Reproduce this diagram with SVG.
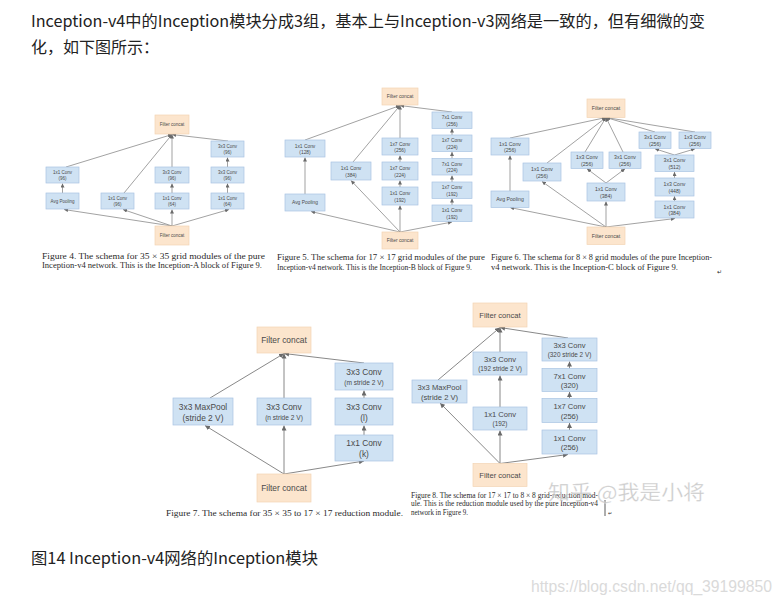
<svg xmlns="http://www.w3.org/2000/svg" width="783" height="606" viewBox="0 0 783 606">
<defs>
<style>
.b{fill:#cfe2f3;stroke:#a8c3e3;stroke-width:0.7}
.c{fill:#fce5cd;stroke:#f2d4b4;stroke-width:0.7}
.t{font-family:"Liberation Sans",Arial,sans-serif;fill:#4a4a4a;text-anchor:middle}
.s4{font-size:4.5px}.s5{font-size:4.9px}.s6{font-size:5.2px}
.s7{font-size:8.4px}.s7s{font-size:6.6px}.s8{font-size:7.6px}.s8s{font-size:6.4px}
.cap{font-family:"Liberation Serif","Times New Roman",serif;fill:#2a2a2a}
.ln{stroke:#7a7a7a;stroke-width:0.7;fill:none;marker-end:url(#as)}
.lnL{stroke:#7a7a7a;stroke-width:0.9;fill:none;marker-end:url(#al)}
.zh{font-family:"Noto Sans CJK SC","Liberation Sans",sans-serif;font-size:16px;fill:#222}
</style>
<marker id="as" markerUnits="userSpaceOnUse" markerWidth="4" markerHeight="4" refX="3.2" refY="1.6" orient="auto" viewBox="0 0 3.2 3.2"><path d="M0,0 L3.2,1.6 L0,3.2 z" fill="#6a6a6a"/></marker>
<marker id="al" markerUnits="userSpaceOnUse" markerWidth="5" markerHeight="5" refX="4" refY="2" orient="auto" viewBox="0 0 4 4"><path d="M0,0 L4,2 L0,4 z" fill="#6a6a6a"/></marker>
</defs>
<rect width="783" height="606" fill="#ffffff"/>

<text class="zh" x="31" y="27" textLength="674" lengthAdjust="spacingAndGlyphs">Inception-v4中的Inception模块分成3组，基本上与Inception-v3网络是一致的，但有细微的变</text>
<text class="zh" x="31" y="53">化，如下图所示：</text>

<!-- Figure 4 -->
<g id="fig4-connectors">
<line class="ln" x1="172" y1="226" x2="64" y2="209.5"/>
<line class="ln" x1="172" y1="226" x2="123" y2="209.5"/>
<line class="ln" x1="172" y1="226" x2="172" y2="209.5"/>
<line class="ln" x1="172" y1="226" x2="229" y2="209.5"/>
<line class="ln" x1="66" y1="167" x2="172" y2="134.5"/>
<line class="ln" x1="124" y1="193" x2="172" y2="134.5"/>
<line class="ln" x1="172" y1="167" x2="172" y2="134.5"/>
<line class="ln" x1="228" y1="141" x2="172" y2="134.5"/>
<line class="ln" x1="62.5" y1="193" x2="62.5" y2="183.5"/>
<line class="ln" x1="172" y1="193" x2="172" y2="183.5"/>
<line class="ln" x1="227.5" y1="193" x2="227.5" y2="183.5"/>
<line class="ln" x1="227.5" y1="167" x2="227.5" y2="157.5"/>
</g>
<g id="f4-concat-top"><rect class="c" x="155" y="115" width="34" height="19"/><text class="t s4" x="172" y="126">Filter concat</text></g>
<g id="f4-1x1-96a"><rect class="b" x="46" y="167" width="33" height="16"/><text class="t s4" x="62.5" y="174">1x1 Conv</text><text class="t s4" x="62.5" y="179.7">(96)</text></g>
<g id="f4-avgpool"><rect class="b" x="46" y="193" width="33" height="16"/><text class="t s4" x="62.5" y="202.5">Avg Pooling</text></g>
<g id="f4-1x1-96b"><rect class="b" x="101" y="193" width="33" height="16"/><text class="t s4" x="117.5" y="200">1x1 Conv</text><text class="t s4" x="117.5" y="205.7">(96)</text></g>
<g id="f4-3x3-96a"><rect class="b" x="155" y="167" width="34" height="16"/><text class="t s4" x="172" y="174">3x3 Conv</text><text class="t s4" x="172" y="179.7">(96)</text></g>
<g id="f4-1x1-64a"><rect class="b" x="155" y="193" width="34" height="16"/><text class="t s4" x="172" y="200">1x1 Conv</text><text class="t s4" x="172" y="205.7">(64)</text></g>
<g id="f4-3x3-96b"><rect class="b" x="211" y="141" width="33" height="16"/><text class="t s4" x="227.5" y="148">3x3 Conv</text><text class="t s4" x="227.5" y="153.7">(96)</text></g>
<g id="f4-3x3-96c"><rect class="b" x="211" y="167" width="33" height="16"/><text class="t s4" x="227.5" y="174">3x3 Conv</text><text class="t s4" x="227.5" y="179.7">(96)</text></g>
<g id="f4-1x1-64b"><rect class="b" x="211" y="193" width="33" height="16"/><text class="t s4" x="227.5" y="200">1x1 Conv</text><text class="t s4" x="227.5" y="205.7">(64)</text></g>
<g id="f4-concat-bot"><rect class="c" x="155" y="226" width="34" height="19"/><text class="t s4" x="172" y="237">Filter concat</text></g>
<text class="cap" font-size="8" x="42" y="258.5" textLength="223" lengthAdjust="spacingAndGlyphs">Figure 4. The schema for 35 × 35 grid modules of the pure</text>
<text class="cap" font-size="8" x="42" y="268" textLength="220" lengthAdjust="spacingAndGlyphs">Inception-v4 network. This is the Inception-A block of Figure 9.</text>

<!-- Figure 5 -->
<g id="fig5-connectors">
<line class="ln" x1="400" y1="232" x2="311" y2="211.5"/>
<line class="ln" x1="400" y1="232" x2="351" y2="180.5"/>
<line class="ln" x1="400" y1="232" x2="400" y2="205.5"/>
<line class="ln" x1="400" y1="232" x2="452" y2="222"/>
<line class="ln" x1="305" y1="140" x2="400" y2="105.5"/>
<line class="ln" x1="353" y1="162" x2="400" y2="105.5"/>
<line class="ln" x1="400" y1="138" x2="400" y2="105.5"/>
<line class="ln" x1="452" y1="112" x2="400" y2="105.5"/>
<line class="ln" x1="305" y1="194" x2="305" y2="157.5"/>
<line class="ln" x1="400" y1="187" x2="400" y2="180.5"/>
<line class="ln" x1="400" y1="162" x2="400" y2="155.5"/>
<line class="ln" x1="452" y1="205" x2="452" y2="198.5"/>
<line class="ln" x1="452" y1="182" x2="452" y2="175.5"/>
<line class="ln" x1="452" y1="158.5" x2="452" y2="152"/>
<line class="ln" x1="452" y1="135" x2="452" y2="128.5"/>
</g>
<g id="f5-concat-top"><rect class="c" x="382" y="88" width="36" height="17"/><text class="t s5" x="400" y="98.3">Filter concat</text></g>
<g id="f5-1x1-128"><rect class="b" x="285" y="140" width="40" height="17"/><text class="t s5" x="305" y="147.5">1x1 Conv</text><text class="t s5" x="305" y="154">(128)</text></g>
<g id="f5-avgpool"><rect class="b" x="285" y="194" width="40" height="17"/><text class="t s5" x="305" y="204.3">Avg Pooling</text></g>
<g id="f5-1x1-384"><rect class="b" x="331" y="162" width="40" height="18"/><text class="t s5" x="351" y="170">1x1 Conv</text><text class="t s5" x="351" y="176.5">(384)</text></g>
<g id="f5-1x7-256"><rect class="b" x="382" y="138" width="36" height="17"/><text class="t s5" x="400" y="145.5">1x7 Conv</text><text class="t s5" x="400" y="152">(256)</text></g>
<g id="f5-1x7-224a"><rect class="b" x="382" y="162" width="36" height="18"/><text class="t s5" x="400" y="170">1x7 Conv</text><text class="t s5" x="400" y="176.5">(224)</text></g>
<g id="f5-1x1-192a"><rect class="b" x="382" y="187" width="36" height="18"/><text class="t s5" x="400" y="195">1x1 Conv</text><text class="t s5" x="400" y="201.5">(192)</text></g>
<g id="f5-7x1-256"><rect class="b" x="432" y="112" width="40" height="16.5"/><text class="t s5" x="452" y="119.3">7x1 Conv</text><text class="t s5" x="452" y="125.8">(256)</text></g>
<g id="f5-1x7-224b"><rect class="b" x="432" y="135" width="40" height="16.5"/><text class="t s5" x="452" y="142.3">1x7 Conv</text><text class="t s5" x="452" y="148.8">(224)</text></g>
<g id="f5-7x1-224"><rect class="b" x="432" y="158.5" width="40" height="16.5"/><text class="t s5" x="452" y="165.8">7x1 Conv</text><text class="t s5" x="452" y="172.3">(224)</text></g>
<g id="f5-1x7-192"><rect class="b" x="432" y="182" width="40" height="16.5"/><text class="t s5" x="452" y="189.3">1x7 Conv</text><text class="t s5" x="452" y="195.8">(192)</text></g>
<g id="f5-1x1-192b"><rect class="b" x="432" y="205" width="40" height="16.5"/><text class="t s5" x="452" y="212.3">1x1 Conv</text><text class="t s5" x="452" y="218.8">(192)</text></g>
<g id="f5-concat-bot"><rect class="c" x="382" y="232" width="36" height="17"/><text class="t s5" x="400" y="242.3">Filter concat</text></g>
<text class="cap" font-size="8" x="277" y="260" textLength="208" lengthAdjust="spacingAndGlyphs">Figure 5. The schema for 17 × 17 grid modules of the pure</text>
<text class="cap" font-size="8" x="277" y="269.5" textLength="195" lengthAdjust="spacingAndGlyphs">Inception-v4 network. This is the Inception-B block of Figure 9.</text>

<!-- Figure 6 -->
<g id="fig6-connectors">
<line class="ln" x1="606" y1="227" x2="510" y2="207.5"/>
<line class="ln" x1="606" y1="227" x2="542" y2="181.5"/>
<line class="ln" x1="606" y1="227" x2="606" y2="201.5"/>
<line class="ln" x1="606" y1="227" x2="675" y2="218.5"/>
<line class="ln" x1="510" y1="138" x2="606" y2="117.5"/>
<line class="ln" x1="547" y1="163" x2="606" y2="117.5"/>
<line class="ln" x1="585" y1="152" x2="606" y2="117.5"/>
<line class="ln" x1="623" y1="152" x2="606" y2="117.5"/>
<line class="ln" x1="655" y1="132" x2="606" y2="117.5"/>
<line class="ln" x1="695" y1="132" x2="606" y2="117.5"/>
<line class="ln" x1="510" y1="191" x2="510" y2="155.5"/>
<line class="ln" x1="606" y1="183" x2="587" y2="168.8"/>
<line class="ln" x1="606" y1="183" x2="625" y2="168.8"/>
<line class="ln" x1="674.5" y1="155" x2="655" y2="148.8"/>
<line class="ln" x1="674.5" y1="155" x2="695" y2="148.8"/>
<line class="ln" x1="674.5" y1="178" x2="674.5" y2="172"/>
<line class="ln" x1="674.5" y1="201" x2="674.5" y2="196.3"/>
</g>
<g id="f6-concat-top"><rect class="c" x="587" y="99" width="38" height="18.5"/><text class="t s6" x="606" y="110">Filter concat</text></g>
<g id="f6-1x1-256a"><rect class="b" x="491" y="138" width="38" height="17"/><text class="t s6" x="510" y="145.5">1x1 Conv</text><text class="t s6" x="510" y="152.2">(256)</text></g>
<g id="f6-avgpool"><rect class="b" x="491" y="191" width="38" height="16.5"/><text class="t s6" x="510" y="201">Avg Pooling</text></g>
<g id="f6-1x1-256b"><rect class="b" x="523" y="163" width="38" height="18"/><text class="t s6" x="542" y="171">1x1 Conv</text><text class="t s6" x="542" y="177.7">(256)</text></g>
<g id="f6-1x3-256a"><rect class="b" x="571" y="152" width="32" height="16.5"/><text class="t s6" x="587" y="159.3">1x3 Conv</text><text class="t s6" x="587" y="166">(256)</text></g>
<g id="f6-3x1-256a"><rect class="b" x="609" y="152" width="32" height="16.5"/><text class="t s6" x="625" y="159.3">3x1 Conv</text><text class="t s6" x="625" y="166">(256)</text></g>
<g id="f6-1x1-384a"><rect class="b" x="587" y="183" width="38" height="18"/><text class="t s6" x="606" y="191">1x1 Conv</text><text class="t s6" x="606" y="197.7">(384)</text></g>
<g id="f6-3x1-256b"><rect class="b" x="639" y="132" width="32" height="16.5"/><text class="t s6" x="655" y="139.3">3x1 Conv</text><text class="t s6" x="655" y="146">(256)</text></g>
<g id="f6-1x3-256b"><rect class="b" x="679" y="132" width="32" height="16.5"/><text class="t s6" x="695" y="139.3">1x3 Conv</text><text class="t s6" x="695" y="146">(256)</text></g>
<g id="f6-3x1-512"><rect class="b" x="655" y="155" width="39" height="16.5"/><text class="t s6" x="674.5" y="162.3">3x1 Conv</text><text class="t s6" x="674.5" y="169">(512)</text></g>
<g id="f6-1x3-448"><rect class="b" x="655" y="178" width="39" height="18"/><text class="t s6" x="674.5" y="186">1x3 Conv</text><text class="t s6" x="674.5" y="192.7">(448)</text></g>
<g id="f6-1x1-384b"><rect class="b" x="655" y="201" width="39" height="17"/><text class="t s6" x="674.5" y="208.5">1x1 Conv</text><text class="t s6" x="674.5" y="215.2">(384)</text></g>
<g id="f6-concat-bot"><rect class="c" x="587" y="227" width="38" height="17.5"/><text class="t s6" x="606" y="237.5">Filter concat</text></g>
<text class="cap" font-size="8" x="491" y="260" textLength="221" lengthAdjust="spacingAndGlyphs">Figure 6. The schema for 8 × 8 grid modules of the pure Inception-</text>
<text class="cap" font-size="8" x="491" y="270" textLength="187" lengthAdjust="spacingAndGlyphs">v4 network. This is the Inception-C block of Figure 9.</text>
<text class="cap" font-size="6" x="717" y="274" fill="#888">↵</text>

<!-- Figure 7 -->
<g id="fig7-connectors">
<line class="lnL" x1="284" y1="474" x2="205" y2="425.5"/>
<line class="lnL" x1="284" y1="474" x2="284" y2="425.5"/>
<line class="lnL" x1="284" y1="474" x2="364" y2="461"/>
<line class="lnL" x1="210" y1="398" x2="284" y2="353.5"/>
<line class="lnL" x1="284" y1="398" x2="284" y2="353.5"/>
<line class="lnL" x1="364" y1="363" x2="284" y2="353.5"/>
<line class="lnL" x1="364" y1="398" x2="364" y2="390.5"/>
<line class="lnL" x1="364" y1="435" x2="364" y2="425.5"/>
</g>
<g id="f7-concat-top"><rect class="c" x="257" y="327" width="54" height="26"/><text class="t s7" x="284" y="343">Filter concat</text></g>
<g id="f7-maxpool"><rect class="b" x="173" y="398" width="60" height="27"/><text class="t s7" x="203" y="409.5">3x3 MaxPool</text><text class="t s7" x="203" y="420.5">(stride 2 V)</text></g>
<g id="f7-3x3-n"><rect class="b" x="257" y="398" width="54" height="27"/><text class="t s7" x="284" y="409.5">3x3 Conv</text><text class="t s7s" x="284" y="420">(n stride 2 V)</text></g>
<g id="f7-3x3-m"><rect class="b" x="335" y="363" width="58" height="27"/><text class="t s7" x="364" y="374.5">3x3 Conv</text><text class="t s7s" x="364" y="385">(m stride 2 V)</text></g>
<g id="f7-3x3-l"><rect class="b" x="335" y="398" width="58" height="27"/><text class="t s7" x="364" y="409.5">3x3 Conv</text><text class="t s7" x="364" y="420.5">(l)</text></g>
<g id="f7-1x1-k"><rect class="b" x="335" y="435" width="58" height="26"/><text class="t s7" x="364" y="446">1x1 Conv</text><text class="t s7" x="364" y="457">(k)</text></g>
<g id="f7-concat-bot"><rect class="c" x="257" y="474" width="54" height="28"/><text class="t s7" x="284" y="491">Filter concat</text></g>
<text class="cap" font-size="8.6" x="166" y="516" textLength="237" lengthAdjust="spacingAndGlyphs">Figure 7. The schema for 35 × 35 to 17 × 17 reduction module.</text>

<!-- Figure 8 -->
<g id="fig8-connectors">
<line class="lnL" x1="500" y1="463.5" x2="440" y2="403"/>
<line class="lnL" x1="500" y1="463.5" x2="500" y2="430.5"/>
<line class="lnL" x1="500" y1="463.5" x2="568" y2="454.5"/>
<line class="lnL" x1="438" y1="380" x2="500" y2="327.5"/>
<line class="lnL" x1="500" y1="352" x2="500" y2="327.5"/>
<line class="lnL" x1="568" y1="338" x2="500" y2="327.5"/>
<line class="lnL" x1="500" y1="407" x2="500" y2="375.5"/>
<line class="lnL" x1="569.5" y1="430" x2="569.5" y2="423"/>
<line class="lnL" x1="569.5" y1="398.5" x2="569.5" y2="392"/>
<line class="lnL" x1="569.5" y1="368.5" x2="569.5" y2="361.5"/>
</g>
<g id="f8-concat-top"><rect class="c" x="473" y="303" width="54" height="24"/><text class="t s8" x="500" y="317.5">Filter concat</text></g>
<g id="f8-maxpool"><rect class="b" x="412" y="380" width="55" height="23"/><text class="t s8" x="439.5" y="390">3x3 MaxPool</text><text class="t s8" x="439.5" y="399.5">(stride 2 V)</text></g>
<g id="f8-3x3-192"><rect class="b" x="473" y="352" width="54" height="23"/><text class="t s8" x="500" y="362">3x3 Conv</text><text class="t s8s" x="500" y="371">(192 stride 2 V)</text></g>
<g id="f8-1x1-192"><rect class="b" x="473" y="407" width="54" height="23"/><text class="t s8" x="500" y="417">1x1 Conv</text><text class="t s8s" x="500" y="426">(192)</text></g>
<g id="f8-3x3-320"><rect class="b" x="542" y="338" width="55" height="23"/><text class="t s8" x="569.5" y="348">3x3 Conv</text><text class="t s8s" x="569.5" y="357">(320 stride 2 V)</text></g>
<g id="f8-7x1-320"><rect class="b" x="542" y="368.5" width="55" height="23"/><text class="t s8" x="569.5" y="378.5">7x1 Conv</text><text class="t s8" x="569.5" y="388">(320)</text></g>
<g id="f8-1x7-256"><rect class="b" x="542" y="398.5" width="55" height="24"/><text class="t s8" x="569.5" y="409">1x7 Conv</text><text class="t s8" x="569.5" y="418.5">(256)</text></g>
<g id="f8-1x1-256"><rect class="b" x="542" y="430" width="55" height="24"/><text class="t s8" x="569.5" y="440.5">1x1 Conv</text><text class="t s8" x="569.5" y="450">(256)</text></g>
<g id="f8-concat-bot"><rect class="c" x="473" y="463.5" width="54" height="23"/><text class="t s8" x="500" y="477.5">Filter concat</text></g>
<text class="cap" font-size="7.2" x="411" y="497.5" textLength="187" lengthAdjust="spacingAndGlyphs">Figure 8. The schema for 17 × 17 to 8 × 8 grid-reduction mod-</text>
<text class="cap" font-size="7.2" x="411" y="506" textLength="187" lengthAdjust="spacingAndGlyphs">ule. This is the reduction module used by the pure Inception-v4</text>
<text class="cap" font-size="7.2" x="411" y="514.5" textLength="57" lengthAdjust="spacingAndGlyphs">network in Figure 9.</text>
<line x1="605" y1="500" x2="605" y2="516" stroke="#333" stroke-width="0.8"/>
<text class="cap" font-size="5" x="608" y="515" fill="#888">↵</text>
<text x="548" y="500" font-family="'Noto Sans CJK SC',sans-serif" font-size="20" fill="#bdbdbd" fill-opacity="0.8" stroke="#ffffff" stroke-opacity="0.5" stroke-width="0.6" textLength="157" lengthAdjust="spacingAndGlyphs">知乎 @我是小将</text>

<text class="zh" x="31" y="564" textLength="287" lengthAdjust="spacingAndGlyphs">图14 Inception-v4网络的Inception模块</text>
<text x="531" y="591.5" font-family="'Liberation Sans',Arial,sans-serif" font-size="16.5" fill="#dadada" textLength="241" lengthAdjust="spacingAndGlyphs">https://blog.csdn.net/qq_39199850</text>
</svg>
